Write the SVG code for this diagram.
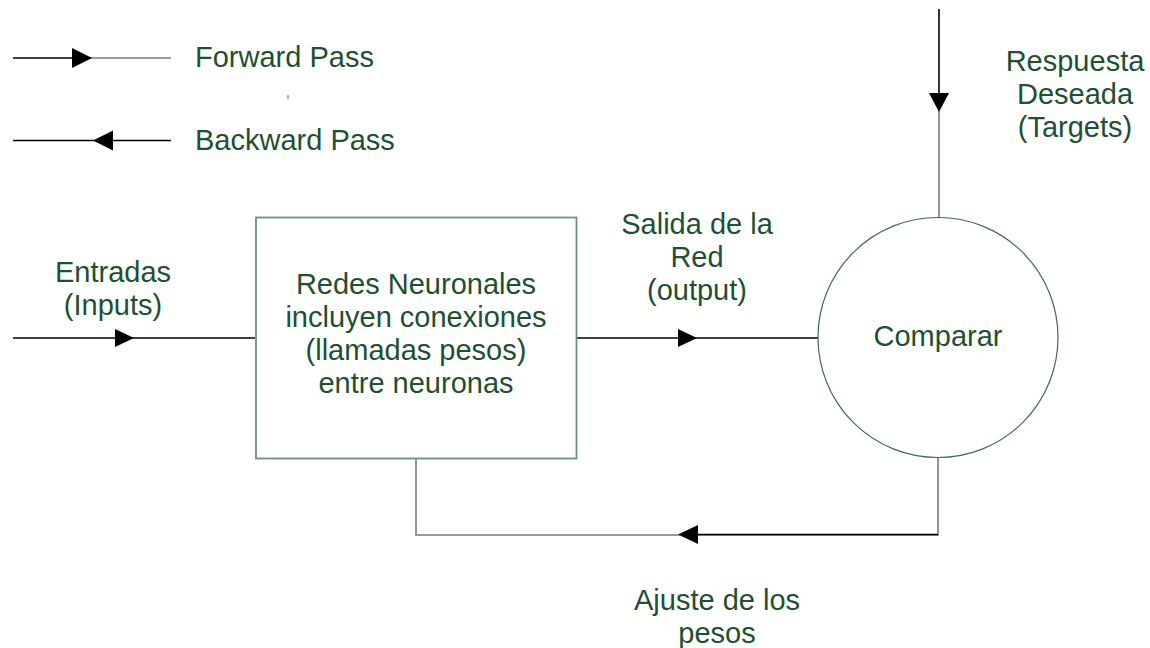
<svg xmlns="http://www.w3.org/2000/svg" width="1150" height="648" viewBox="0 0 1150 648">
<style>
text{font-family:"Liberation Sans",Arial,sans-serif;font-size:29px;fill:#1e5031}
.c{text-anchor:middle}
.k{stroke:#000;stroke-width:1.6;fill:none}
.g{stroke:#7a7a7a;stroke-width:1.6;fill:none}
.ah{fill:#000}
</style>
<rect width="1150" height="648" fill="#fff"/>
<g id="legend">
<line class="k" x1="13" y1="58" x2="80" y2="58"/>
<line class="g" x1="90" y1="58" x2="171" y2="58"/>
<polygon class="ah" points="72,48 92,58 72,68"/>
<text x="195" y="67">Forward Pass</text>
<line class="k" x1="13" y1="140.5" x2="171" y2="140.5"/>
<polygon class="ah" points="93,140.5 113,130.5 113,150.5"/>
<text x="195" y="150">Backward Pass</text>
<line x1="288" y1="95" x2="288" y2="99" stroke="#555" stroke-width="1"/>
</g>
<g id="connectors">
<line class="k" x1="13" y1="338" x2="255" y2="338"/>
<polygon class="ah" points="115,329 134,338 115,347"/>
<line class="k" x1="577" y1="338" x2="818" y2="338"/>
<polygon class="ah" points="678,329 697,338 678,347"/>
<line class="k" x1="939" y1="9" x2="939" y2="95"/>
<line class="g" x1="939" y1="95" x2="939" y2="217"/>
<polygon class="ah" points="929,93 949,93 939,112"/>
<polyline class="g" points="938,458 938,535 698,535"/>
<line class="k" x1="698" y1="534.5" x2="938" y2="534.5"/>
<polyline class="g" points="680,535 416,535 416,458"/>
<polygon class="ah" points="678,534.5 698,525 698,544"/>
</g>
<g id="inputs-label">
<text class="c" x="113" y="282">Entradas</text>
<text class="c" x="113" y="315">(Inputs)</text>
</g>
<g id="red-neuronal">
<rect x="256" y="217.5" width="320.5" height="241" fill="#fff" stroke="#6f8f7c" stroke-width="1.8"/>
<text class="c" x="416" y="294">Redes Neuronales</text>
<text class="c" x="416" y="327">incluyen conexiones</text>
<text class="c" x="416" y="360">(llamadas pesos)</text>
<text class="c" x="416" y="393">entre neuronas</text>
</g>
<g id="output-label">
<text class="c" x="697" y="234">Salida de la</text>
<text class="c" x="697" y="267">Red</text>
<text class="c" x="697" y="300">(output)</text>
</g>
<g id="comparar">
<circle cx="938" cy="337.5" r="120" fill="#fff" stroke="#3f6b52" stroke-width="1.2"/>
<text class="c" x="938" y="346">Comparar</text>
</g>
<g id="targets-label">
<text class="c" x="1075" y="71">Respuesta</text>
<text class="c" x="1075" y="104">Deseada</text>
<text class="c" x="1075" y="137">(Targets)</text>
</g>
<g id="ajuste-label">
<text class="c" x="717" y="610">Ajuste de los</text>
<text class="c" x="717" y="643">pesos</text>
</g>
</svg>
